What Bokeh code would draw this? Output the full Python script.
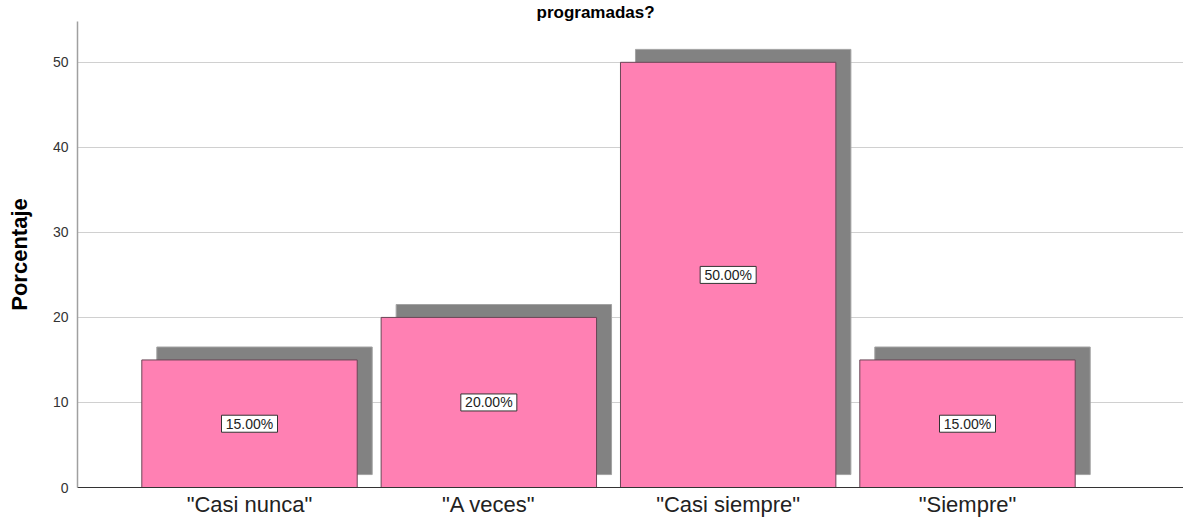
from bokeh.plotting import figure
from bokeh.models import ColumnDataSource, FixedTicker, Range1d
from bokeh.core.properties import value
from bokeh.embed import file_html
from bokeh.resources import INLINE

categories = ['"Casi nunca"', '"A veces"', '"Casi siempre"', '"Siempre"']
values = [15.0, 20.0, 50.0, 15.0]
y_ticks = [0, 10, 20, 30, 40, 50]
title_text = "programadas?"
y_label = "Porcentaje"

pos = list(range(len(categories)))
shadow_dx = 0.0627
shadow_dy = 1.52

src = ColumnDataSource(dict(
    x=pos,
    top=values,
    mid=[v / 2 for v in values],
    sx=[p_ + shadow_dx for p_ in pos],
    sbottom=[shadow_dy] * len(values),
    stop=[v + shadow_dy for v in values],
    lab=[f"{v:.2f}%" for v in values],
))

FONT = "Liberation Sans"

p = figure(width=1183, height=519, output_backend="svg", toolbar_location=None,
           x_range=Range1d(-0.7187, 3.9025), y_range=Range1d(0, 54.8),
           min_border_left=77, min_border_right=0, min_border_top=0, min_border_bottom=30)
p.outline_line_color = None
p.background_fill_color = "white"

p.title.text = title_text
p.title.align = "left"
p.title.offset = 459
p.title.standoff = 0
p.title.text_font = FONT
p.title.text_font_style = "bold"
p.title.text_font_size = "17px"
p.title.text_color = "black"

# shadows
p.vbar(x="sx", bottom="sbottom", top="stop", width=0.9, source=src,
       fill_color="#828282", line_color="#a3a3a3", line_width=1)
# bars
p.vbar(x="x", bottom=0, top="top", width=0.9, source=src,
       fill_color="#FF80B3", line_color="#6a4656", line_width=1)

# value labels in white boxes
p.rect(x="x", y="mid", width=56, height=17, width_units="screen", height_units="screen",
       source=src, fill_color="white", line_color="#333333", line_width=1)
p.text(x="x", y="mid", text="lab", source=src, text_align="center",
       text_baseline="middle", text_font=value(FONT), text_font_size=value("14px"),
       text_color="#222222")

# axes
p.xaxis.ticker = FixedTicker(ticks=pos)
p.xaxis.major_label_overrides = {i: c for i, c in enumerate(categories)}
p.xaxis.major_label_text_font = FONT
p.xaxis.major_label_text_font_size = "22px"
p.xaxis.major_label_text_color = "#222222"
p.xaxis.major_label_standoff = 4
p.xaxis.major_tick_line_color = None
p.xaxis.major_tick_out = 0
p.xaxis.major_tick_in = 0
p.xaxis.minor_tick_line_color = None
p.xaxis.axis_line_color = "#333333"

p.yaxis.ticker = FixedTicker(ticks=y_ticks)
p.yaxis.major_label_text_font = FONT
p.yaxis.major_label_text_font_size = "14px"
p.yaxis.major_label_text_color = "#333333"
p.yaxis.major_label_standoff = 9
p.yaxis.major_tick_line_color = None
p.yaxis.major_tick_out = 0
p.yaxis.major_tick_in = 0
p.yaxis.minor_tick_line_color = None
p.yaxis.axis_line_color = "#a0a0a0"
p.yaxis.axis_line_width = 1.5
p.yaxis.axis_label = y_label
p.yaxis.axis_label_text_font = FONT
p.yaxis.axis_label_text_font_style = "bold"
p.yaxis.axis_label_text_font_size = "22px"
p.yaxis.axis_label_text_color = "black"
p.yaxis.axis_label_standoff = 18

p.xgrid.grid_line_color = None
p.ygrid.grid_line_color = "#d0d0d0"
p.ygrid.grid_line_width = 1.2

open("out.html", "w").write(file_html(p, INLINE))
